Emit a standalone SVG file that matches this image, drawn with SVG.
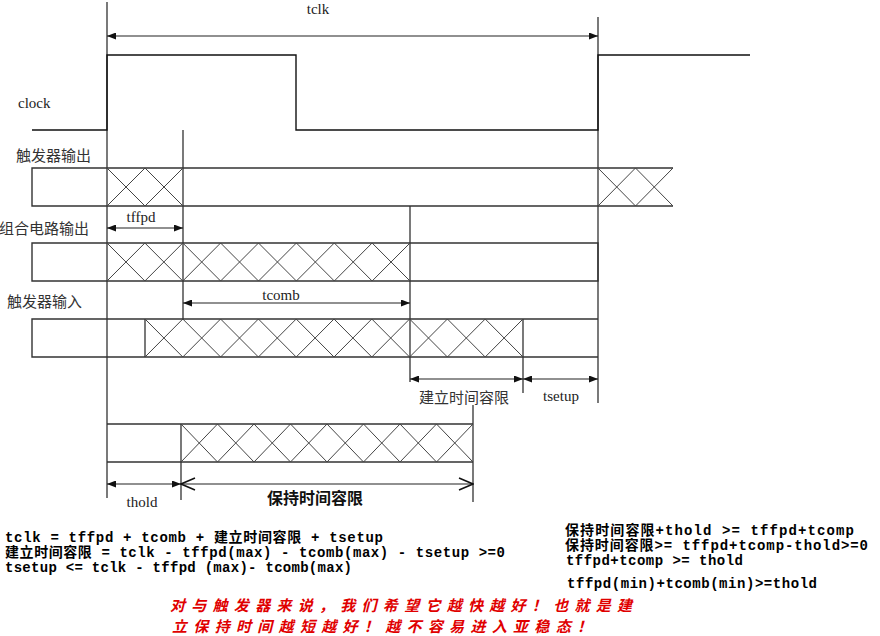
<svg xmlns="http://www.w3.org/2000/svg" width="880" height="636" viewBox="0 0 880 636">
<style>
.bg{fill:#fff}
.sig{fill:none;stroke:#333;stroke-width:1.4}
.clk{fill:none;stroke:#111;stroke-width:1.4}
.guide{fill:none;stroke:#333;stroke-width:1.3}
.hatch{fill:none;stroke:#444;stroke-width:1}
.arr{fill:none;stroke:#222;stroke-width:1.2;marker-start:url(#ah);marker-end:url(#ah)}
.arrO{fill:none;stroke:#222;stroke-width:1.2;marker-start:url(#chev);marker-end:url(#chev)}
.lbl{font-family:"Liberation Serif","Noto Sans CJK SC",serif;font-size:15px;fill:#222}
.cn{font-family:"Liberation Serif","Noto Sans CJK SC",serif;font-size:15px;fill:#333}
.cnb{font-family:"Noto Sans CJK SC",sans-serif;font-size:16px;font-weight:bold;fill:#111}
.mono{font-family:"Liberation Mono","Noto Sans CJK SC",monospace;font-size:14px;font-weight:bold;fill:#000}
.red{font-family:"Noto Sans CJK SC",sans-serif;font-size:15px;font-weight:bold;font-style:italic;fill:#e00000}
</style>
<defs>
<marker id="ah" markerUnits="userSpaceOnUse" markerWidth="9" markerHeight="7" refX="9" refY="3.5" orient="auto-start-reverse">
<path d="M0,0 L9,3.5 L0,7 z" fill="#111"/>
</marker>
<marker id="chev" markerUnits="userSpaceOnUse" markerWidth="16" markerHeight="14" refX="15" refY="7" orient="auto-start-reverse">
<path d="M1,1 L15,7 L1,13" fill="none" stroke="#111" stroke-width="1.5"/>
</marker>
</defs>
<rect class="bg" x="0" y="0" width="880" height="636"/>

<g id="guides">
<path class="guide" d="M107 2 V498 M183 130 V320 M410 206 V382 M523 319 V393 M598 17 V403 M473 405 V502 M181 424 V500 M145 319 V357"/>
</g>

<g id="clock">
<polyline class="clk" points="32,130 107,130 107,55 296,55 296,130 598,130 598,55 750,55"/>
<text class="lbl" x="18" y="108">clock</text>
</g>

<g id="ff-output">
<path class="sig" d="M673 168 H32 V206 H673"/>
<polyline class="hatch" points="107,168 145,206 183,168"/>
<polyline class="hatch" points="107,206 145,168 183,206"/>
<polyline class="hatch" points="598,168 635.5,206 673,168"/>
<polyline class="hatch" points="598,206 635.5,168 673,206"/>
<text class="cn" x="16" y="161">触发器输出</text>
</g>

<g id="comb-output">
<path class="sig" d="M32 243 H598 V281 H32 Z"/>
<polyline class="hatch" points="107,243 144.9,281 182.8,243 220.6,281 258.5,243 296.4,281 334.3,243 372.1,281 410,243"/>
<polyline class="hatch" points="107,281 144.9,243 182.8,281 220.6,243 258.5,281 296.4,243 334.3,281 372.1,243 410,281"/>
<text class="cn" x="89" y="234" text-anchor="end">组合电路输出</text>
</g>

<g id="ff-input">
<path class="sig" d="M598 319 H32 V357 H598"/>
<polyline class="hatch" points="145,319 182.8,357 220.6,319 258.4,357 296.2,319 334,357 371.8,319 409.6,357 447.4,319 485.2,357 523,319"/>
<polyline class="hatch" points="145,357 182.8,319 220.6,357 258.4,319 296.2,357 334,319 371.8,357 409.6,319 447.4,357 485.2,319 523,357"/>
<text class="cn" x="7" y="307">触发器输入</text>
</g>

<g id="hold-window">
<path class="sig" d="M107 424 H473 M107 462 H473"/>
<polyline class="hatch" points="181,424 217.5,462 254,424 290.5,462 327,424 363.5,462 400,424 436.5,462 473,424"/>
<polyline class="hatch" points="181,462 217.5,424 254,462 290.5,424 327,462 363.5,424 400,462 436.5,424 473,462"/>
</g>

<g id="connectors">
<path class="arr" d="M107 36 H598"/>
<path class="arr" d="M107 228 H183"/>
<path class="arr" d="M183 303 H410"/>
<path class="arr" d="M410 379 H523"/>
<path class="arr" d="M523 379 H598"/>
<path class="arr" d="M107 484 H181"/>
<path class="arrO" d="M181 484 H473"/>
</g>

<g id="labels">
<text class="lbl" x="318" y="14" text-anchor="middle">tclk</text>
<text class="lbl" x="141" y="222" text-anchor="middle">tffpd</text>
<text class="lbl" x="281" y="300" text-anchor="middle">tcomb</text>
<text class="cn" x="464" y="403" text-anchor="middle">建立时间容限</text>
<text class="lbl" x="561" y="401" text-anchor="middle">tsetup</text>
<text class="lbl" x="142" y="507" text-anchor="middle">thold</text>
<text class="cnb" x="315" y="504" text-anchor="middle">保持时间容限</text>
</g>

<g id="formulas">
<text class="mono" x="5" y="542" textLength="378" lengthAdjust="spacing">tclk = tffpd + tcomb + 建立时间容限 + tsetup</text>
<text class="mono" x="5" y="557" textLength="500" lengthAdjust="spacing">建立时间容限 = tclk - tffpd(max) - tcomb(max) - tsetup &gt;=0</text>
<text class="mono" x="5" y="572" textLength="347" lengthAdjust="spacing">tsetup &lt;= tclk - tffpd (max)- tcomb(max)</text>
<text class="mono" x="565" y="535" textLength="289" lengthAdjust="spacing">保持时间容限+thold &gt;= tffpd+tcomp</text>
<text class="mono" x="565" y="550" textLength="303" lengthAdjust="spacing">保持时间容限&gt;= tffpd+tcomp-thold&gt;=0</text>
<text class="mono" x="566" y="565" textLength="177" lengthAdjust="spacing">tffpd+tcomp &gt;= thold</text>
<text class="mono" x="567" y="588" textLength="250" lengthAdjust="spacing">tffpd(min)+tcomb(min)&gt;=thold</text>
</g>

<g id="note">
<text class="red" x="170" y="611" textLength="462" lengthAdjust="spacing">对与触发器来说，我们希望它越快越好！也就是建</text>
<text class="red" x="172" y="632" textLength="420" lengthAdjust="spacing">立保持时间越短越好！越不容易进入亚稳态！</text>
</g>
</svg>
